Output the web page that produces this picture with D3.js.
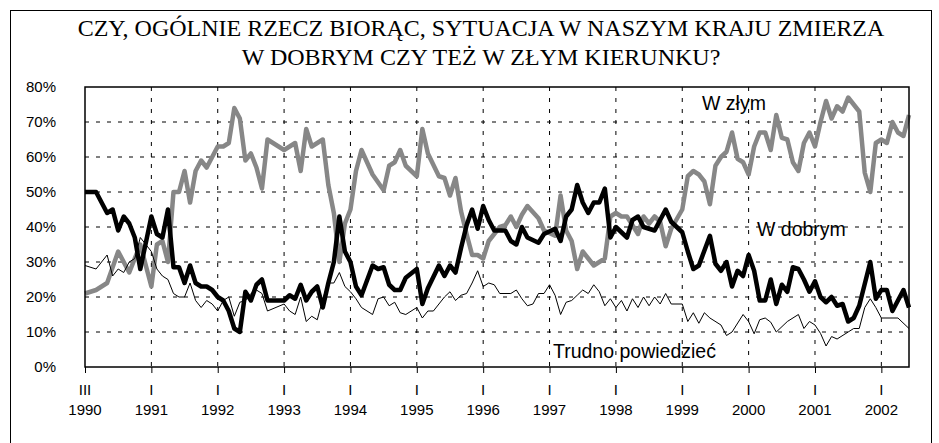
<!DOCTYPE html>
<html>
<head>
<meta charset="utf-8">
<script src="https://cdn.jsdelivr.net/npm/d3@7"></script>
<style>
body { margin: 0; background: #fff; }
svg text { font-family: "Liberation Sans", Arial, sans-serif; fill: #000; }
</style>
</head>
<body>
<script>
// data: [month counted from III 1990, percent]
let w_zlym = [[0,21],[2,22],[4,24],[6,33],[8,27],[10,35],[12,23],[13,35],[14,36],[15,30],[16,50],[17,50],[18,56],[19,47],[20,56],[21,59],[22,57],[23,60],[24,63],[25,63],[26,64],[27,74],[28,71],[29,59],[30,61],[31,57],[32,51],[33,65],[36,62],[38,64],[39,56],[40,68],[41,63],[43,65],[44,52],[45,44],[46,30],[47,41],[48,45],[49,56],[50,62],[52,55],[54,50.5],[55,57.5],[56,58.5],[57,62],[58,57.5],[60,54.5],[61,68],[62,61],[64,54.5],[65,54],[66,49],[67,54],[68,44.5],[69,38],[70,32],[71,32],[72,31],[73,36],[75,40],[76,40.5],[77,43],[78,40],[79,43.5],[80,46],[82,42.5],[83,39],[85,37.5],[86,49],[87,39],[88,36],[89,28],[90,33],[91,31],[92,29],[93,30],[94,31],[95,43],[96,44],[97,43],[98,43],[100,38],[101,43],[102,41],[103,43],[104,41.5],[105,34.5],[106,39.5],[108,45],[109,54.5],[110,56],[111,55],[112,53],[113,46.5],[114,57.5],[115,60],[116,61.5],[117,67],[118,59.5],[119,58.5],[120,55],[121,63],[122,67],[123,67],[124,62],[125,72],[126,65.5],[127,65],[128,58.5],[129,56],[130,64],[131,67],[132,63],[133,70],[134,76],[135,71],[136,74.5],[137,73],[138,77],[140,73],[141,55.5],[142,50],[143,64],[144,65],[145,64],[146,70],[147,67],[148,66],[149,72]];

let w_dobrym = [[0,50],[2,50],[4,44],[5,45],[6,39],[7,43],[8,41],[9,37],[10,28],[12,43],[13,38],[14,37],[15,45],[16,28.5],[17,28.5],[18,24],[19,29],[20,24],[21,23],[22,23],[23,22],[24,20],[25,19],[26,16],[27,11],[28,10],[29,21.5],[30,19],[31,23.5],[32,25],[33,19],[36,19],[37,20.5],[38,19.5],[39,23.5],[40,19],[41,21.5],[42,23],[43,17],[44,24],[45,30],[46,43],[47,33],[48,30],[49,23],[50,20.5],[52,29],[53,28],[54,28.5],[55,23.5],[56,22],[57,22],[58,25.5],[60,28],[61,18],[62,22.5],[64,29],[65,26],[66,29],[67,27],[68,34],[69,40.5],[70,45],[71,39.5],[72,46],[73,42],[74,39],[76,39],[77,36],[78,35],[79,40],[80,37],[82,35.5],[83,38],[85,39.5],[86,36],[87,43],[88,45],[89,52],[90,47],[91,44],[92,47],[93,47],[94,51],[95,37],[96,40],[97,38.5],[98,37],[99,42],[100,43],[101,40],[103,39],[105,45],[106,41.5],[108,38.5],[109,33],[110,28],[111,29],[113,37.5],[114,29.5],[115,27.5],[116,30],[117,23],[118,27.5],[119,26],[120,32],[121,27.5],[122,19],[123,19],[124,25],[125,18],[126,23.5],[127,21.5],[128,28.5],[129,28],[130,25],[131,21.5],[132,24.5],[133,20],[134,18.5],[135,20],[136,17.5],[137,18],[138,13],[139,14],[140,17.5],[142,30],[143,19.5],[144,22],[145,22],[146,16],[148,22],[149,17]];

let trudno = [[0,29],[2,28],[4,32],[5,26],[6,28],[7,27],[8,30],[9,31],[10,37],[11,35],[12,33],[13,28],[14,26],[15,25],[16,21],[17,20],[18,20],[19,24],[20,19],[21,17],[22,19],[23,18],[24,16],[25,19],[26,20],[27,14.5],[28,18.5],[29,19],[30,21],[31,22],[32,21],[33,16],[36,18],[37,16],[38,15],[39,20],[40,13],[41,14.5],[42,13.5],[43,19.5],[44,24],[45,24],[46,27],[47,23],[48,21.5],[49,19.5],[50,17],[52,15],[53,19.5],[54,20],[55,17.5],[56,18.5],[57,15.5],[58,15],[60,17],[61,14],[62,16],[63,16],[65,20],[66,21.5],[67,19],[68,20.5],[69,21],[70,24],[71,27.5],[72,23],[73,24],[74,23.5],[75,21],[77,21],[78,22],[79,19.5],[80,17.5],[81,18],[82,21],[83,21],[84,23.5],[85,20.5],[86,15],[87,18.5],[88,19],[89,20.5],[90,22],[91,21],[92,23.5],[93,21.5],[94,17.5],[95,19.5],[96,17],[97,19],[98,16],[99,19.5],[100,17],[101,20],[102,17.5],[103,20],[104,18],[105,21],[106,18],[108,18],[109,13],[110,15.5],[111,12.5],[112,15.5],[113,14],[115,12],[116,9],[117,10],[119,15],[120,13],[121,9.5],[122,13.5],[123,14],[124,12.8],[125,10],[127,13],[129,15],[130,11],[131,13],[132,12],[133,9.6],[134,6],[135,8.7],[136,8],[138,10],[139,11],[140,11],[141,17],[142,19.5],[143,17],[144,14],[147,14],[149,11]];

let y_ticks = [0, 10, 20, 30, 40, 50, 60, 70, 80];
let year_ticks = [0, 12, 24, 36, 48, 60, 72, 84, 96, 108, 120, 132, 144];
let year_labels = ["1990", "1991", "1992", "1993", "1994", "1995", "1996", "1997", "1998", "1999", "2000", "2001", "2002"];
let month_labels = ["III", "I", "I", "I", "I", "I", "I", "I", "I", "I", "I", "I", "I"];
let title_lines = ["CZY, OGÓLNIE RZECZ BIORĄC, SYTUACJA W NASZYM KRAJU ZMIERZA", "W DOBRYM CZY TEŻ W ZŁYM KIERUNKU?"];

// colors
let color_gray = "#878787";
let color_black = "#000";

let width = 939;
let height = 443;
let plot = {left: 85, right: 909, top: 87, bottom: 367};

let svg = d3.select("body").append("svg")
            .attr("width", width)
            .attr("height", height);

let x = d3.scaleLinear().domain([0, 149]).range([plot.left, plot.right]);
let y = d3.scaleLinear().domain([0, 80]).range([plot.bottom, plot.top]);

// outer frame
svg.append("rect")
   .attr("x", 10.5).attr("y", 10.5)
   .attr("width", 921).attr("height", 450)
   .style("fill", "none").style("stroke", "#000").style("stroke-width", 1);

// title
svg.selectAll(".title")
   .data(title_lines)
   .enter().append("text")
   .attr("class", "title")
   .attr("x", 481)
   .attr("y", (d, i) => 36 + i * 29)
   .attr("text-anchor", "middle")
   .style("font-family", "'Liberation Serif', 'Times New Roman', serif")
   .style("font-size", "24px")
   .text(d => d);

// grid
svg.append("g").selectAll("line")
   .data(y_ticks.filter(d => d > 0 && d < 80))
   .enter().append("line")
   .attr("x1", plot.left).attr("x2", plot.right)
   .attr("y1", d => y(d)).attr("y2", d => y(d))
   .style("stroke", "#000").style("stroke-dasharray", "4,7");

svg.append("g").selectAll("line")
   .data(year_ticks.slice(1))
   .enter().append("line")
   .attr("x1", d => x(d)).attr("x2", d => x(d))
   .attr("y1", plot.top).attr("y2", plot.bottom)
   .style("stroke", "#000").style("stroke-dasharray", "4,7");

// axes
let y_axis = svg.append("g")
   .attr("transform", "translate(" + plot.left + ",0)")
   .call(d3.axisLeft(y).tickValues(y_ticks).tickSize(0).tickPadding(29).tickFormat(d => d + "%"));
y_axis.select(".domain").remove();
y_axis.selectAll("text").style("font-size", "15px").style("font-family", "'Liberation Sans', Arial, sans-serif");

let x_axis = svg.append("g")
   .attr("transform", "translate(0," + plot.bottom + ")")
   .call(d3.axisBottom(x).tickValues(year_ticks).tickSize(6).tickFormat(""));
x_axis.select(".domain").remove();

svg.append("g").selectAll("text")
   .data(year_ticks)
   .enter().append("text")
   .attr("x", d => x(d))
   .attr("y", 395)
   .attr("text-anchor", "middle")
   .style("font-size", "15px")
   .text((d, i) => month_labels[i]);

svg.append("g").selectAll("text")
   .data(year_ticks)
   .enter().append("text")
   .attr("x", d => x(d))
   .attr("y", 415)
   .attr("text-anchor", "middle")
   .style("font-size", "15px")
   .text((d, i) => year_labels[i]);

// lines
let line = d3.line().x(d => x(d[0])).y(d => y(d[1]));

function draw_line(data, color, w) {
    svg.append("path")
       .datum(data)
       .attr("d", line)
       .style("fill", "none")
       .style("stroke", color)
       .style("stroke-width", w)
       .style("stroke-linejoin", "round");
}

draw_line(w_zlym, color_gray, 4.5);
draw_line(trudno, color_black, 1);
draw_line(w_dobrym, color_black, 4.5);

// plot border
svg.append("rect")
   .attr("x", plot.left).attr("y", plot.top)
   .attr("width", plot.right - plot.left).attr("height", plot.bottom - plot.top)
   .style("fill", "none").style("stroke", "#000").style("stroke-width", 1.5);

// series labels
function add_label(t, lx, ly) {
    svg.append("text")
       .attr("x", lx).attr("y", ly)
       .style("font-size", "19.5px")
       .text(t);
}

add_label("W złym", 702, 110);
add_label("W dobrym", 757, 236);
add_label("Trudno powiedzieć", 553, 358);
</script>
</body>
</html>
